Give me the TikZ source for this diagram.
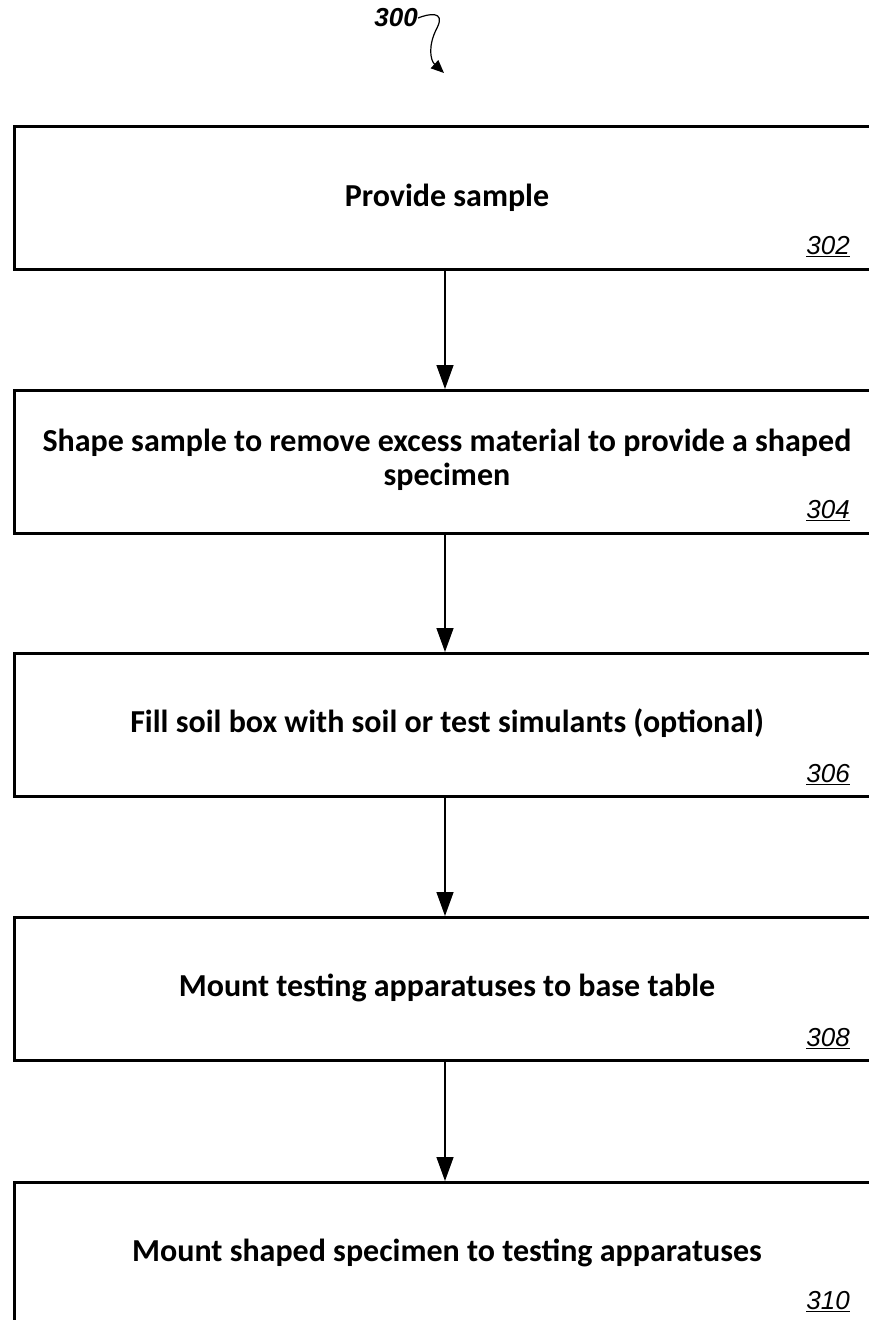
\documentclass[tikz,border=0pt]{standalone}
\usepackage{fontspec}
\setmainfont{Carlito}
\newfontfamily\labfont{Liberation Sans}
\usetikzlibrary{arrows.meta}
\tikzset{
  stepbox/.style={draw=black, line width=2.5pt, minimum width=868pt, minimum height=143pt, anchor=north west, inner sep=0pt},
  steptext/.style={font=\fontsize{32}{34}\selectfont\bfseries, align=center},
  reflabel/.style={font=\labfont\fontsize{26}{28}\selectfont\itshape, anchor=south east, inner sep=0pt},
  flow/.style={line width=1.4pt, -{Triangle[length=24pt,width=17pt]}}
}
\begin{document}
\begin{tikzpicture}[x=1pt,y=-1pt]
\useasboundingbox (0,0) rectangle (869,1320);
\node[stepbox] (b1) at (13,125) {};
\node[stepbox] (b2) at (13,389) {};
\node[stepbox] (b3) at (13,652) {};
\node[stepbox] (b4) at (13,916) {};
\node[stepbox, minimum height=200pt] (b5) at (13,1181) {};
\node[steptext] (t1) at (447,198) {Provide sample};
\node[steptext] (t2) at (447,460) {Shape sample to remove excess material to provide a shaped\\specimen};
\node[steptext] (t3) at (447,723) {Fill soil box with soil or test simulants (optional)};
\node[steptext] (t4) at (447,988) {Mount testing apparatuses to base table};
\node[steptext] (t5) at (447,1253) {Mount shaped specimen to testing apparatuses};
\node[reflabel] (l1) at (850,257) {\underline{302}};
\node[reflabel] (l2) at (850,521) {\underline{304}};
\node[reflabel] (l3) at (850,785) {\underline{306}};
\node[reflabel] (l4) at (850,1049) {\underline{308}};
\node[reflabel] (l5) at (850,1312) {\underline{310}};
\draw[flow] (b1.south -| 445,0) -- (b2.north -| 445,0);
\draw[flow] (b2.south -| 445,0) -- (b3.north -| 445,0);
\draw[flow] (b3.south -| 445,0) -- (b4.north -| 445,0);
\draw[flow] (b4.south -| 445,0) -- (b5.north -| 445,0);
\node[font=\labfont\fontsize{26}{28}\selectfont\itshape\bfseries, anchor=east, inner sep=0pt] (n300) at (418,18) {300};
\coordinate (tip) at (444,73);
\draw[line width=1.2pt, -{Triangle[length=13pt,width=11pt]}] (n300.east) .. controls (428,14) and (446,10) .. (437,28) .. controls (428,45) and (430,60) .. (tip);
\end{tikzpicture}
\end{document}
